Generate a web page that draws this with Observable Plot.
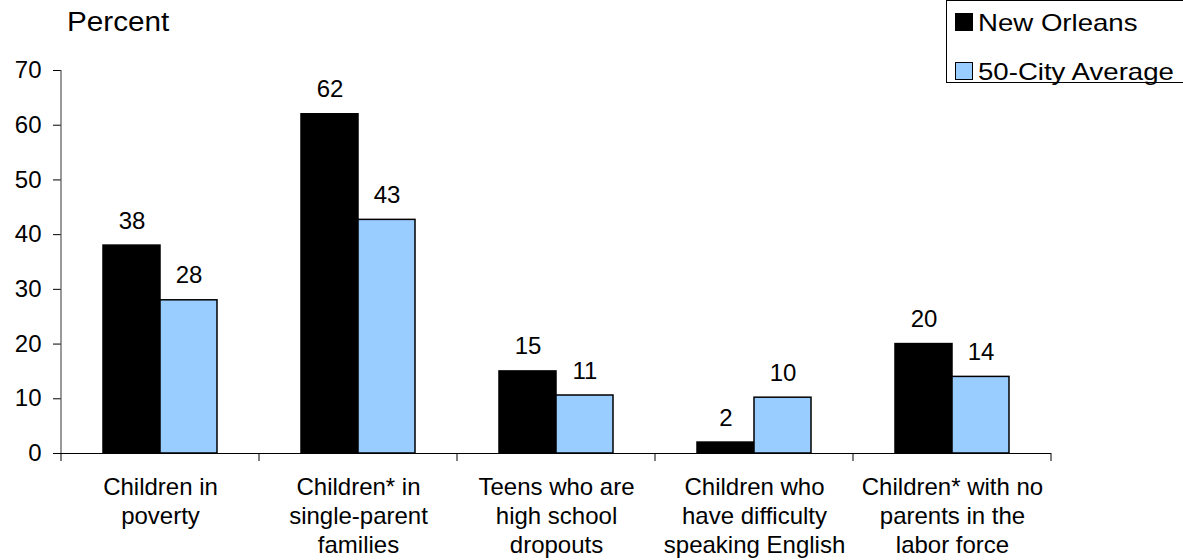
<!DOCTYPE html>
<html>
<head>
<meta charset="utf-8">
<script src="https://cdn.jsdelivr.net/npm/d3@7"></script>
<script src="https://cdn.jsdelivr.net/npm/@observablehq/plot@0.6"></script>
<style>
body{margin:0;background:#fff;font-family:"Liberation Sans",Arial,sans-serif;color:#000;}
#wrap{position:relative;width:1183px;height:560px;overflow:hidden;background:#fff;}
#wrap svg{position:absolute;left:0;top:0;}
.t{position:absolute;line-height:1;white-space:nowrap;}
#title{left:67px;top:9px;font-size:27px;transform:scaleX(1.1);transform-origin:left;}
#legend{position:absolute;left:946px;top:0;width:300px;height:83px;border:1px solid #000;box-sizing:border-box;background:#fff;}
.sw{position:absolute;box-sizing:border-box;width:18px;height:18px;border:1.5px solid #000;}
.lab{font-size:24px;transform:scaleX(1.15);transform-origin:left;}
</style>
</head>
<body>
<div id="wrap"></div>
<script>
const categories = [
  "Children in\npoverty",
  "Children* in\nsingle-parent\nfamilies",
  "Teens who are\nhigh school\ndropouts",
  "Children who\nhave difficulty\nspeaking English",
  "Children* with no\nparents in the\nlabor force"
];
const series = ["New Orleans", "50-City Average"];
const newOrleans = [38, 62, 15, 2, 20];
const cityAverage = [28, 42.7, 10.6, 10.2, 14];
const yTicks = [0, 10, 20, 30, 40, 50, 60, 70];
const colors = ["#000000", "#99CCFF"];

const data = categories.flatMap((c, i) => [
  {category: c, series: series[0], value: newOrleans[i]},
  {category: c, series: series[1], value: cityAverage[i]}
]);

const chart = Plot.plot({
  width: 1183,
  height: 560,
  marginLeft: 59,
  marginRight: 131,
  marginTop: 70,
  marginBottom: 107,
  style: {fontFamily: "'Liberation Sans', Arial, sans-serif", fontSize: "24px", color: "#000", background: "transparent"},
  fx: {domain: categories, padding: 0, label: null},
  x: {domain: series, paddingInner: 0, paddingOuter: 0.712, axis: null},
  y: {domain: [0, 70], label: null},
  color: {domain: series, range: colors},
  marks: [
    Plot.barY(data, {fx: "category", x: "series", y: "value", fill: "series", stroke: "#000", strokeWidth: 1.5}),
    Plot.ruleY([0], {stroke: "#000", strokeWidth: 1.2}),
    Plot.text(data, {fx: "category", x: "series", y: "value", text: d => d3.format(".0f")(d.value), lineAnchor: "bottom", dy: -17, fontSize: 24}),
    Plot.axisY(yTicks, {tickSize: 8, tickPadding: 12, label: null, fontSize: 24}),
    Plot.axisFx({anchor: "bottom", tickSize: 0, tickPadding: 21, lineHeight: 1.2, label: null, fontSize: 24})
  ]
});

const wrap = document.getElementById("wrap");
wrap.appendChild(chart);

// y axis line and category boundary ticks, from the plot's scales
const fxScale = chart.scale("fx");
const yScale = chart.scale("y");
const y0 = yScale.apply(0);
const yTop = yScale.apply(yTicks[yTicks.length - 1]);
const bw = fxScale.bandwidth;
const edges = categories.map(c => fxScale.apply(c)).concat([fxScale.apply(categories[categories.length - 1]) + bw]);
const g = d3.select(chart).append("g");
g.append("line")
  .attr("x1", edges[0]).attr("x2", edges[0])
  .attr("y1", yTop).attr("y2", y0)
  .attr("stroke", "#555").attr("stroke-width", 1.2);
g.selectAll("line.edge").data(edges).join("line")
  .attr("class", "edge")
  .attr("x1", d => d).attr("x2", d => d)
  .attr("y1", y0).attr("y2", y0 + 8)
  .attr("stroke", "#000");

// title and legend
const title = document.createElement("div");
title.className = "t"; title.id = "title"; title.textContent = "Percent";
wrap.appendChild(title);

const legend = document.createElement("div");
legend.id = "legend";
wrap.appendChild(legend);
const rowTops = [13, 62];
series.forEach((s, i) => {
  const sw = document.createElement("div");
  sw.className = "sw";
  sw.style.left = "955px"; sw.style.top = rowTops[i] + "px";
  sw.style.background = colors[i];
  wrap.appendChild(sw);
  const lab = document.createElement("div");
  lab.className = "t lab";
  lab.style.left = "978px"; lab.style.top = (rowTops[i] - 2.5) + "px";
  lab.textContent = s;
  wrap.appendChild(lab);
});
</script>
</body>
</html>
